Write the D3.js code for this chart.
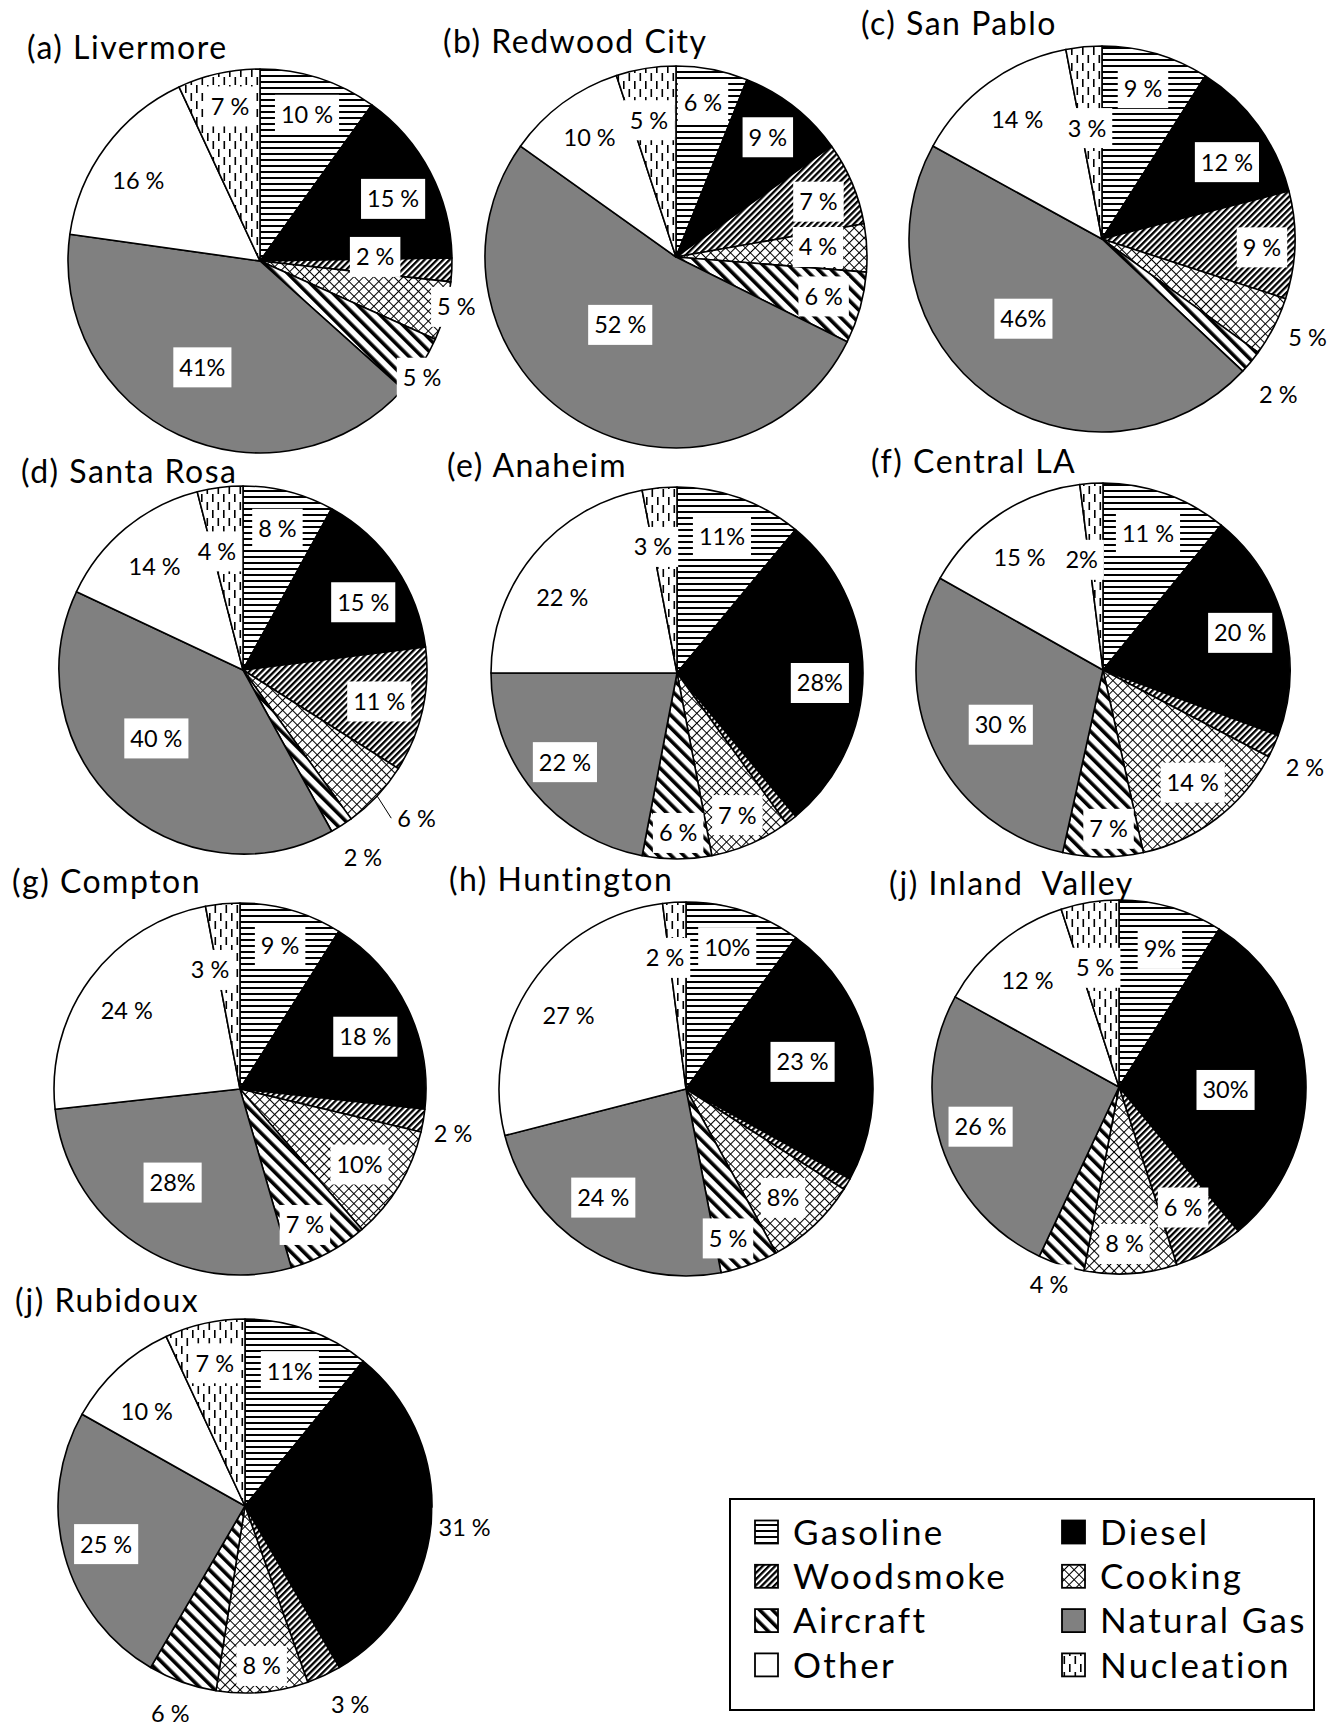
<!DOCTYPE html>
<html><head><meta charset="utf-8">
<script src="https://cdn.jsdelivr.net/npm/d3@7"></script>
<style>
body{margin:0;background:#fff}
svg{display:block}
text{font-family:Lato,'Open Sans',sans-serif;fill:#000}
</style>
</head><body>
<svg id="chart" width="1339" height="1735"></svg>
<script>
// ---------- DATA ----------
const categories = ["Gasoline","Diesel","Woodsmoke","Cooking","Aircraft","Natural Gas","Other","Nucleation"];
const siteNames = ["(a) Livermore","(b) Redwood City","(c) San Pablo","(d) Santa Rosa","(e) Anaheim","(f) Central LA","(g) Compton","(h) Huntington","(j) Inland  Valley","(j) Rubidoux"];

const livermore   = [10,15,2,5,5,41,16,7];
const redwoodCity = [6,9,7,4,6,52,10,5];
const sanPablo    = [9,12,9,5,2,46,14,3];
const santaRosa   = [8,15,11,6,2,40,14,4];
const anaheim     = [11,28,1,7,6,22,22,3];
const centralLA   = [11,20,2,14,7,30,15,2];
const compton     = [9,18,2,10,7,28,24,3];
const huntington  = [10,23,1,8,5,24,27,2];
const inlandValley= [9,30,6,8,4,26,12,5];
const rubidoux    = [11,31,3,8,6,25,10,7];

const livermoreLabels   = ["10 %","15 %","2 %","5 %","5 %","41%","16 %","7 %"];
const redwoodCityLabels = ["6 %","9 %","7 %","4 %","6 %","52 %","10 %","5 %"];
const sanPabloLabels    = ["9 %","12 %","9 %","5 %","2 %","46%","14 %","3 %"];
const santaRosaLabels   = ["8 %","15 %","11 %","6 %","2 %","40 %","14 %","4 %"];
const anaheimLabels     = ["11%","28%",null,"7 %","6 %","22 %","22 %","3 %"];
const centralLALabels   = ["11 %","20 %","2 %","14 %","7 %","30 %","15 %","2%"];
const comptonLabels     = ["9 %","18 %","2 %","10%","7 %","28%","24 %","3 %"];
const huntingtonLabels  = ["10%","23 %",null,"8%","5 %","24 %","27 %","2 %"];
const inlandValleyLabels= ["9%","30%","6 %","8 %","4 %","26 %","12 %","5 %"];
const rubidouxLabels    = ["11%","31 %","3 %","8 %","6 %","25 %","10 %","7 %"];

const siteValues = [livermore,redwoodCity,sanPablo,santaRosa,anaheim,centralLA,compton,huntington,inlandValley,rubidoux];
const siteLabels = [livermoreLabels,redwoodCityLabels,sanPabloLabels,santaRosaLabels,anaheimLabels,centralLALabels,comptonLabels,huntingtonLabels,inlandValleyLabels,rubidouxLabels];

// ---------- LAYOUT (positions / sizes) ----------
const panels = [
  {cx:260, cy:261, r:192, tx:27,  ty:59,  lab:[[0.80,0],[0.765,2.6],[0.60,-4.7],[1.05,-2],[1.04,2.8],[0.63,3.5],[0.76,-3],[0.82,1.5]]},
  {cx:676, cy:257, r:191, tx:443, ty:53,  lab:[[0.82,-1],[0.79,-0.7],[0.80,1.5],[0.745,-1.3],[0.80,-0.5],[0.46,8.5],[0.77,0.4],[0.73,-2.1]]},
  {cx:1102,cy:239, r:193, tx:861, ty:35,  lab:[[0.81,-1],[0.76,4.4],[0.83,1.2],[1.18,-1.5],[1.22,1.9],[0.58,8.6],[0.76,0.7],[0.58,-2.3]]},
  {cx:243, cy:670, r:184, tx:21,  ty:483, lab:[[0.79,-0.7],[0.75,4.8],[0.76,0.4],[1.24,-2.7],[1.21,-0.2],[0.60,8.5],[0.74,-0.9],[0.66,-5.2]], leader:3},
  {cx:677, cy:673, r:186, tx:447, ty:477, lab:[[0.77,-1.5],[0.77,4],null,[0.83,0.4],[0.86,-0.4],[0.77,1.1],[0.74,-6.1],[0.69,-5.4]]},
  {cx:1103,cy:670, r:187, tx:871, ty:473, lab:[[0.77,-1.4],[0.76,0],[1.20,1.8],[0.77,-1.1],[0.85,-2],[0.62,-4.1],[0.75,-2.6],[0.60,-7.4]]},
  {cx:240, cy:1089,r:186, tx:12,  ty:893, lab:[[0.80,-0.4],[0.73,3.2],[1.17,1.9],[0.76,1.1],[0.81,3],[0.62,1.9],[0.74,-1.9],[0.66,-8.8]]},
  {cx:686, cy:1089,r:187, tx:449, ty:891, lab:[[0.79,-1.8],[0.64,-0.5],null,[0.78,1.5],[0.83,4.1],[0.73,4.9],[0.74,-2.2],[0.71,-5.5]]},
  {cx:1119,cy:1087,r:187, tx:889, ty:895, lab:[[0.77,0.3],[0.57,5.2],[0.73,0.8],[0.84,1.6],[1.12,1.5],[0.77,2],[0.75,-1.1],[0.65,-2.3]]},
  {cx:245, cy:1506,r:187, tx:15,  ty:1312,lab:[[0.76,-1.2],[1.18,1.2],[1.20,-3],[0.86,-0.6],[1.18,0.2],[0.77,-0.2],[0.73,-3.2],[0.78,0.5]]}
];

const svg = d3.select("#chart");
const defs = svg.append("defs");

function pat(id, w, h, transform){
  const p = defs.append("pattern").attr("id", id).attr("patternUnits","userSpaceOnUse")
    .attr("width", w).attr("height", h);
  if (transform) p.attr("patternTransform", transform);
  return p;
}
// Gasoline: horizontal lines
let p = pat("p-gas", 8, 6);
p.append("rect").attr("width",8).attr("height",6).attr("fill","#fff");
p.append("rect").attr("width",8).attr("height",2).attr("fill","#000");
// Woodsmoke: dense "/" diagonal
p = pat("p-wood", 4.4, 10, "rotate(45)");
p.append("rect").attr("width",4.4).attr("height",10).attr("fill","#fff");
p.append("rect").attr("width",2.3).attr("height",10).attr("fill","#000");
// Cooking: diagonal cross lattice
p = pat("p-cook", 7, 7, "rotate(45)");
p.append("rect").attr("width",7).attr("height",7).attr("fill","#fff");
p.append("rect").attr("width",7).attr("height",1).attr("fill","#000");
p.append("rect").attr("width",1).attr("height",7).attr("fill","#000");
// Aircraft: wide "\" diagonal
p = pat("p-air", 9, 10, "rotate(-45)");
p.append("rect").attr("width",9).attr("height",10).attr("fill","#fff");
p.append("rect").attr("width",3.6).attr("height",10).attr("fill","#000");
// Nucleation: dashed vertical lines
p = pat("p-nuc", 11, 16);
p.append("rect").attr("width",11).attr("height",16).attr("fill","#fff");
p.append("rect").attr("x",2).attr("y",0).attr("width",1.6).attr("height",8).attr("fill","#000");
p.append("rect").attr("x",7.5).attr("y",8).attr("width",1.6).attr("height",8).attr("fill","#000");

const fills = d3.scaleOrdinal()
  .domain(categories)
  .range(["url(#p-gas)","#000000","url(#p-wood)","url(#p-cook)","url(#p-air)","#808080","#ffffff","url(#p-nuc)"]);

const pie = d3.pie().sort(null).value(d => d.v);
const toRad = Math.PI/180;

panels.forEach((pn, i) => {
  const data = siteValues[i].map((v, j) => ({cat: categories[j], v, label: siteLabels[i][j], lay: pn.lab[j]}));
  const arcs = pie(data);
  const arc = d3.arc().innerRadius(0).outerRadius(pn.r);
  const g = svg.append("g").attr("transform", `translate(${pn.cx},${pn.cy})`);

  g.selectAll("path.slice").data(arcs).join("path")
    .attr("class","slice")
    .attr("d", arc)
    .attr("fill", d => fills(d.data.cat))
    .attr("stroke","#000").attr("stroke-width",1.6).attr("stroke-linejoin","round");

  // title
  svg.append("text").attr("x", pn.tx).attr("y", pn.ty)
    .attr("font-size", 32).style("letter-spacing","1.5px").style("white-space","pre")
    .text(siteNames[i]);

  // labels
  const lg = g.append("g");
  arcs.forEach((d, j) => {
    if (!d.data.label || !d.data.lay) return;
    const [k, dA] = d.data.lay;
    const a = (d.startAngle + d.endAngle)/2 + dA*toRad;
    const R = k*pn.r;
    const [x, y] = d3.arc().innerRadius(R).outerRadius(R).centroid({startAngle:a, endAngle:a});
    const t = lg.append("text").attr("x", x).attr("y", y).attr("dy","0.36em")
      .attr("text-anchor","middle").attr("font-size", 23.5).style("white-space","pre")
      .text(d.data.label);
    const bb = t.node().getBBox();
    const bw = bb.width + 12, bh = 40;
    lg.insert("rect", () => t.node())
      .attr("x", x - bw/2).attr("y", y - bh/2).attr("width", bw).attr("height", bh)
      .attr("fill","#fff");
    if (pn.leader === j) {
      const mid = (d.startAngle + d.endAngle)/2;
      const [x0, y0] = d3.arc().innerRadius(pn.r).outerRadius(pn.r).centroid({startAngle:mid, endAngle:mid});
      lg.append("line").attr("x1", x0).attr("y1", y0).attr("x2", x - bw/2).attr("y2", y)
        .attr("stroke","#000").attr("stroke-width",1);
    }
  });
});

// ---------- LEGEND ----------
const legend = svg.append("g");
legend.append("rect").attr("x",730).attr("y",1499).attr("width",584).attr("height",211)
  .attr("fill","#fff").attr("stroke","#000").attr("stroke-width",2);
const colX = [755, 1062], rowY0 = 1532, rowStep = 44.3;
categories.forEach((c, idx) => {
  const col = idx % 2, row = Math.floor(idx/2);
  const x = colX[col], y = rowY0 + row*rowStep;
  legend.append("rect").attr("x", x).attr("y", y - 11.5).attr("width",23).attr("height",23)
    .attr("fill", fills(c)).attr("stroke","#000").attr("stroke-width",1.8);
  legend.append("text").attr("x", x + 38).attr("y", y).attr("dy","0.36em")
    .attr("font-size", 35).style("letter-spacing","2.4px").text(c);
});
</script>
</body></html>
